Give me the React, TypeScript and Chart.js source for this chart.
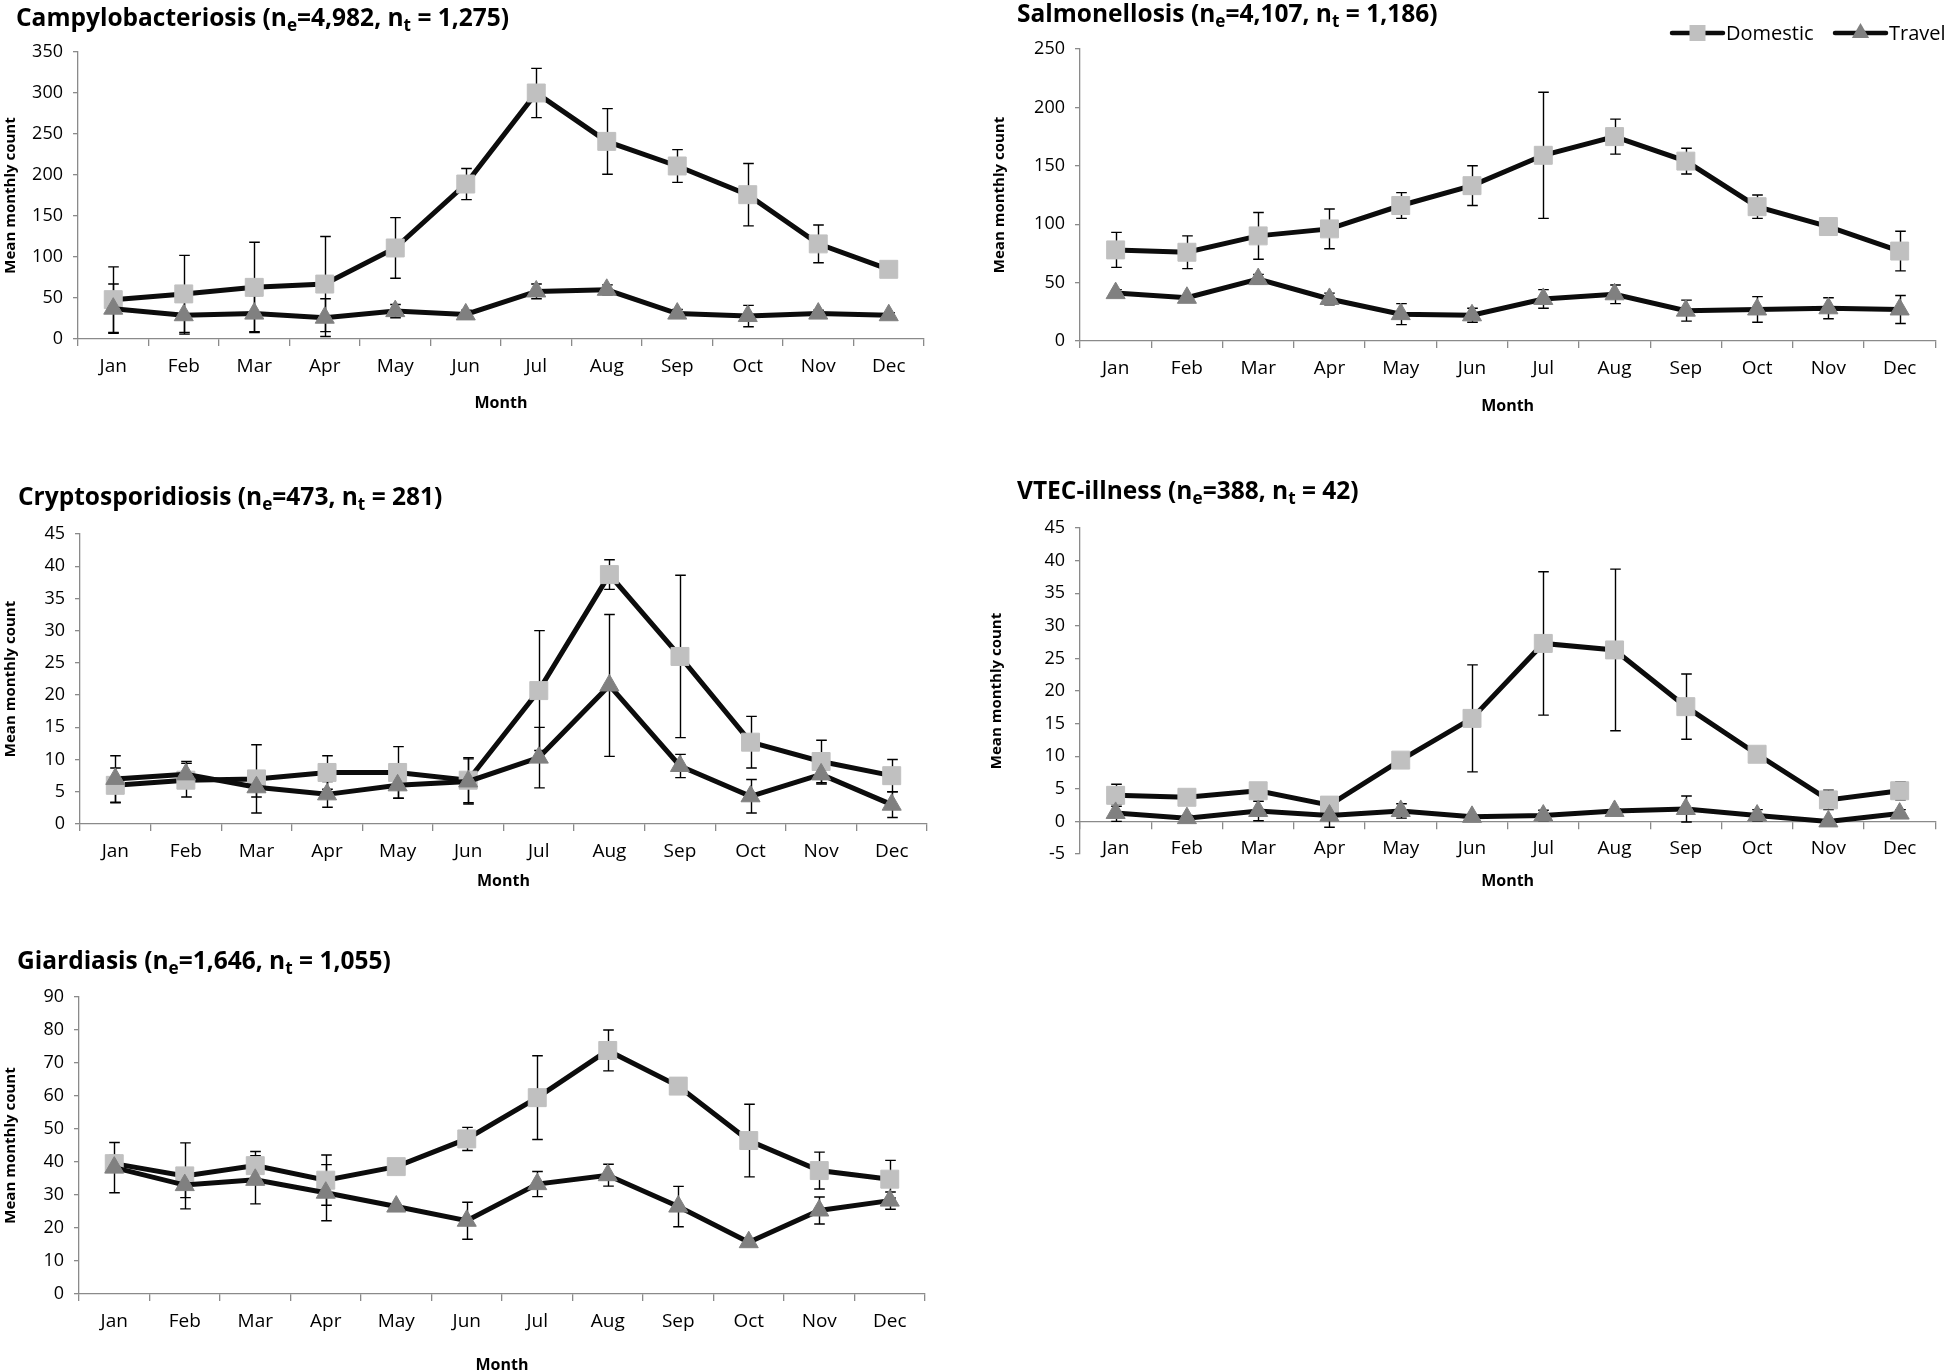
import React, { useEffect, useRef } from 'react';
import { Chart, registerables } from 'chart.js';

Chart.register(...registerables);

// ---------- data ----------
const months = ['Jan', 'Feb', 'Mar', 'Apr', 'May', 'Jun', 'Jul', 'Aug', 'Sep', 'Oct', 'Nov', 'Dec'];
const seriesNames = ['Domestic', 'Travel'];
const yAxisTitle = 'Mean monthly count';
const xAxisTitle = 'Month';

const campyDomestic = [48, 55, 63, 67, 111, 189, 300, 241, 211, 176, 116, 85];
const campyDomesticErr = [40, 47, 55, 58, 37, 19, 30, 40, 20, 38, 23, 2];
const campyTravel = [37, 29, 31, 26, 34, 30, 58, 60, 31, 28, 31, 29];
const campyTravelErr = [30, 23, 22, 23, 8, 5, 9, 6, 5, 13, 4, 3];

const salmDomestic = [78, 76, 90, 96, 116, 133, 159, 175, 154, 115, 98, 77];
const salmDomesticErr = [15, 14, 20, 17, 11, 17, 54, 15, 11, 10, 3, 17];
const salmTravel = [41, 37, 53, 36, 23, 22, 36, 40, 26, 27, 28, 27];
const salmTravelErr = [3, 2, 4, 5, 9, 6, 8, 8, 9, 11, 9, 12];

const cryptoDomestic = [6, 6.8, 7, 8, 8, 6.8, 20.7, 38.7, 26, 12.7, 9.7, 7.5];
const cryptoDomesticErr = [2.7, 2.6, 5.3, 2.6, 4, 3.5, 9.3, 2.3, 12.6, 4, 3.3, 2.5];
const cryptoTravel = [7, 7.7, 5.7, 4.6, 6, 6.6, 10.3, 21.5, 9, 4.3, 7.7, 3];
const cryptoTravelErr = [3.6, 2, 1.5, 2, 2, 3.5, 4.7, 11, 1.8, 2.6, 1.5, 2];

const vtecDomestic = [4, 3.7, 4.7, 2.5, 9.4, 15.8, 27.3, 26.3, 17.6, 10.3, 3.3, 4.7];
const vtecDomesticErr = [1.7, 0.5, 0.5, 1.3, 0.3, 8.2, 11, 12.4, 5, 0.3, 1.5, 1.4];
const vtecTravel = [1.3, 0.5, 1.6, 0.9, 1.6, 0.7, 0.9, 1.6, 1.9, 0.9, 0, 1.2];
const vtecTravelErr = [1.3, 0.4, 1.5, 1.8, 1.1, 0.3, 0.8, 0.3, 2, 0.9, 0.2, 0.6];

const giardDomestic = [39.5, 35.8, 38.9, 34.5, 38.6, 47, 59.5, 73.8, 63, 46.5, 37.4, 34.8];
const giardDomesticErr = [2.5, 10, 4.3, 7.6, 0.5, 3.5, 12.7, 6.2, 2.5, 11, 5.6, 5.7];
const giardTravel = [38.3, 33, 34.6, 30.7, 26.5, 22.2, 33.3, 36, 26.5, 15.7, 25.3, 28.3];
const giardTravelErr = [7.6, 3.8, 7.3, 8.5, 0.5, 5.6, 3.8, 3.3, 6.1, 0.5, 4.1, 2.6];

const panelNames = ['Campylobacteriosis', 'Salmonellosis', 'Cryptosporidiosis', 'VTEC-illness', 'Giardiasis'];
const panelNe = ['4,982', '4,107', '473', '388', '1,646'];
const panelNt = ['1,275', '1,186', '281', '42', '1,055'];
const yMins = [0, 0, 0, -5, 0];
const yMaxs = [350, 250, 45, 45, 90];
const ySteps = [50, 50, 5, 5, 10];

// ---------- styling / geometry ----------
const FONT = "'Open Sans', 'Noto Sans', 'DejaVu Sans', sans-serif";
const AXIS = '#8a8a8a';
const LINE = '#0c0c0c';
const DOM_FILL = '#c0c0c0';
const TRV_FILL = '#808080';

type Geo = {
  cl: number; ct: number; cw: number; ch: number;
  areaL: number; areaR: number; areaT: number; areaB: number;
  zeroY?: number; xTitleY: number; yTitleX: number;
  titleLeft: number; titleBaseline: number; legend?: boolean;
};

const geos: Geo[] = [
  { cl: 0, ct: 0, cw: 965, ch: 416, areaL: 78, areaR: 924, areaT: 52, areaB: 339, xTitleY: 403, yTitleX: 11, titleLeft: 16, titleBaseline: 27 },
  { cl: 975, ct: 0, cw: 974, ch: 418, areaL: 1080, areaR: 1945, areaT: 49, areaB: 341, xTitleY: 406, yTitleX: 1000, titleLeft: 1017, titleBaseline: 23, legend: true },
  { cl: 0, ct: 440, cw: 965, ch: 454, areaL: 80, areaR: 927, areaT: 534, areaB: 824, xTitleY: 881, yTitleX: 11, titleLeft: 18, titleBaseline: 506 },
  { cl: 975, ct: 440, cw: 974, ch: 486, areaL: 1080, areaR: 1945, areaT: 528, areaB: 854, zeroY: 821, xTitleY: 881, yTitleX: 997, titleLeft: 1017, titleBaseline: 500 },
  { cl: 0, ct: 920, cw: 965, ch: 456, areaL: 79, areaR: 925, areaT: 997, areaB: 1294, xTitleY: 1365, yTitleX: 11, titleLeft: 17, titleBaseline: 970 },
];

const panelData = [
  [campyDomestic, campyDomesticErr, campyTravel, campyTravelErr],
  [salmDomestic, salmDomesticErr, salmTravel, salmTravelErr],
  [cryptoDomestic, cryptoDomesticErr, cryptoTravel, cryptoTravelErr],
  [vtecDomestic, vtecDomesticErr, vtecTravel, vtecTravelErr],
  [giardDomestic, giardDomesticErr, giardTravel, giardTravelErr],
];

// ---------- plugins ----------
const errorBarPlugin = {
  id: 'errorBars',
  beforeDatasetsDraw(chart: any) {
    const ctx = chart.ctx;
    const xs = chart.scales.x;
    const ys = chart.scales.y;
    ctx.save();
    ctx.strokeStyle = '#000';
    ctx.lineWidth = 1.4;
    chart.data.datasets.forEach((ds: any) => {
      const errs = ds.errorBars;
      if (!errs) return;
      ds.data.forEach((v: number, i: number) => {
        const e = errs[i];
        if (!e) return;
        const px = Math.round(xs.getPixelForValue(i)) + 0.5;
        const top = ys.getPixelForValue(v + e);
        const bot = ys.getPixelForValue(v - e);
        ctx.beginPath();
        ctx.moveTo(px, top);
        ctx.lineTo(px, bot);
        ctx.moveTo(px - 5.3, top);
        ctx.lineTo(px + 5.3, top);
        ctx.moveTo(px - 5.3, bot);
        ctx.lineTo(px + 5.3, bot);
        ctx.stroke();
      });
    });
    ctx.restore();
  },
};

function drawMarker(ctx: CanvasRenderingContext2D, style: string, x: number, y: number, size: number, fill: string) {
  ctx.fillStyle = fill;
  ctx.beginPath();
  if (style === 'rect') {
    ctx.rect(x - size / 2, y - size / 2, size, size);
  } else {
    const r = size / 1.6;
    ctx.moveTo(x, y - r);
    ctx.lineTo(x + r * 0.866, y + r * 0.5);
    ctx.lineTo(x - r * 0.866, y + r * 0.5);
    ctx.closePath();
  }
  ctx.fill();
}

const lineLegendPlugin = {
  id: 'lineLegend',
  afterDraw(chart: any, _args: any, opts: any) {
    if (!opts || !opts.items) return;
    const ctx = chart.ctx;
    chart.data.datasets.forEach((ds: any, i: number) => {
      const it = opts.items[i];
      if (!it) return;
      ctx.save();
      ctx.strokeStyle = ds.borderColor;
      ctx.lineWidth = 4.5;
      ctx.lineCap = 'round';
      ctx.beginPath();
      ctx.moveTo(it.x, it.y);
      ctx.lineTo(it.x + opts.lineLength, it.y);
      ctx.stroke();
      drawMarker(ctx, ds.pointStyle, it.x + opts.lineLength / 2, it.y, 16, ds.pointBackgroundColor);
      ctx.fillStyle = '#000';
      ctx.font = `${opts.fontSize}px ${FONT}`;
      ctx.textBaseline = 'middle';
      ctx.textAlign = 'left';
      ctx.fillText(ds.label, it.x + opts.lineLength + opts.gap, it.y + 1);
      ctx.restore();
    });
  },
};

function buildConfig(idx: number) {
  const g = geos[idx];
  const [dom, domErr, trv, trvErr] = panelData[idx];
  const hasZero = g.zeroY !== undefined;
  const refY = hasZero ? (g.zeroY as number) : g.areaB;
  const xH = g.xTitleY - refY + 9.6;
  // an axis placed at y = 0 takes no room below the chart area, so the bottom padding alone sets it
  const padBottom = hasZero ? g.ct + g.ch - g.areaB : g.ch - (g.areaB - g.ct) - xH;
  return {
    type: 'line',
    data: {
      labels: months,
      datasets: [
        {
          label: seriesNames[0],
          data: dom,
          errorBars: domErr,
          borderColor: LINE,
          borderWidth: 5,
          pointStyle: 'rect',
          pointRadius: 12.7,
          pointBackgroundColor: DOM_FILL,
          pointBorderColor: DOM_FILL,
          pointBorderWidth: 1,
          tension: 0,
          order: 1,
        },
        {
          label: seriesNames[1],
          data: trv,
          errorBars: trvErr,
          borderColor: LINE,
          borderWidth: 5,
          pointStyle: 'triangle',
          pointRadius: 11,
          pointBackgroundColor: TRV_FILL,
          pointBorderColor: TRV_FILL,
          pointBorderWidth: 1,
          tension: 0,
          order: 0,
        },
      ],
    },
    options: {
      animation: false,
      responsive: false,
      devicePixelRatio: 1,
      events: [],
      layout: {
        padding: { left: 0, top: g.areaT - g.ct, right: g.cl + g.cw - g.areaR, bottom: padBottom },
      },
      plugins: {
        legend: { display: false },
        tooltip: { enabled: false },
        title: { display: false },
        lineLegend: g.legend
          ? { items: [{ x: 1672 - g.cl, y: 33 }, { x: 1835 - g.cl, y: 33 }], lineLength: 51, gap: 3, fontSize: 20 }
          : {},
      },
      scales: {
        x: {
          type: 'category',
          offset: true,
          position: hasZero ? { y: 0 } : 'bottom',
          grid: { display: true, drawOnChartArea: false, drawTicks: true, tickLength: 7, offset: true, color: AXIS, lineWidth: 1.3 },
          border: { display: true, color: AXIS, width: 1.3 },
          ticks: { font: { family: FONT, size: 19 }, color: '#000', padding: 9, maxRotation: 0, autoSkip: false },
          title: { display: true, text: xAxisTitle, font: { family: FONT, size: 16, weight: 'bold' }, color: '#000', padding: 0 },
          afterFit: (s: any) => { s.height = xH; },
        },
        y: {
          min: yMins[idx],
          max: yMaxs[idx],
          ticks: { stepSize: ySteps[idx], font: { family: FONT, size: 18 }, color: '#000', padding: 10 },
          grid: { display: true, drawOnChartArea: false, drawTicks: true, tickLength: 5, color: AXIS, lineWidth: 1.3 },
          border: { display: true, color: AXIS, width: 1.3 },
          title: {
            display: true, text: yAxisTitle, font: { family: FONT, size: 15, weight: 'bold' }, color: '#000',
            padding: { top: g.yTitleX - g.cl - 9, bottom: 0 },
          },
          afterFit: (s: any) => { s.width = g.areaL - g.cl; },
        },
      },
    },
    plugins: [errorBarPlugin, lineLegendPlugin],
  };
}

function Panel({ idx }: { idx: number }) {
  const ref = useRef<HTMLCanvasElement | null>(null);
  const g = geos[idx];
  useEffect(() => {
    if (!ref.current) return;
    const chart = new Chart(ref.current, buildConfig(idx) as any);
    return () => chart.destroy();
  }, [idx]);
  return (
    <canvas
      ref={ref}
      width={g.cw}
      height={g.ch}
      style={{ position: 'absolute', left: g.cl, top: g.ct, width: g.cw, height: g.ch }}
    />
  );
}

const TITLE_SIZE = 24.5;

function PanelTitle({ idx }: { idx: number }) {
  const g = geos[idx];
  const sub: React.CSSProperties = { fontSize: '0.7em', position: 'relative', top: '0.28em' };
  return (
    <div
      style={{
        position: 'absolute',
        left: g.titleLeft,
        top: g.titleBaseline - TITLE_SIZE * 0.888,
        fontFamily: FONT,
        fontWeight: 700,
        fontSize: TITLE_SIZE,
        lineHeight: 1,
        whiteSpace: 'nowrap',
        color: '#000',
      }}
    >
      {panelNames[idx]} (n<span style={sub}>e</span>={panelNe[idx]}, n<span style={sub}>t</span> = {panelNt[idx]})
    </div>
  );
}

export default function App() {
  return (
    <div
      style={{
        position: 'absolute',
        left: 0,
        top: 0,
        width: 1949,
        height: 1372,
        overflow: 'hidden',
        background: '#fff',
      }}
    >
      {geos.map((_, i) => (
        <Panel key={'p' + i} idx={i} />
      ))}
      {geos.map((_, i) => (
        <PanelTitle key={'t' + i} idx={i} />
      ))}
    </div>
  );
}
